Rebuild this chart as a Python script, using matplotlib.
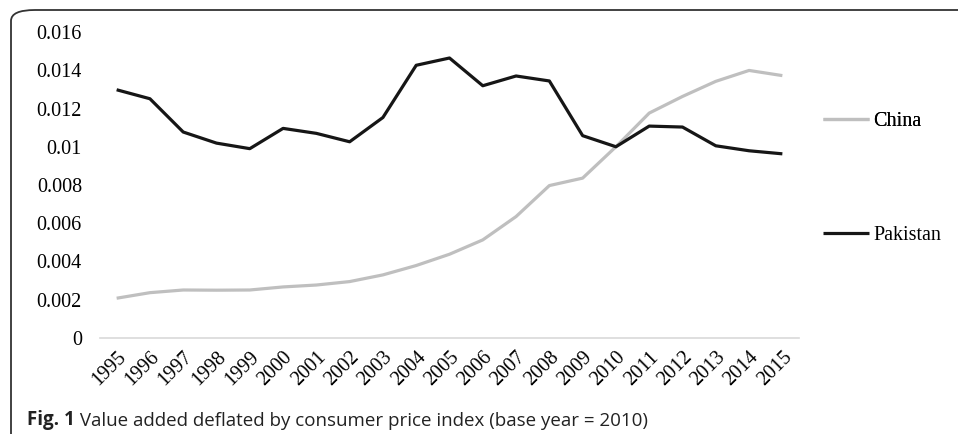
import matplotlib
matplotlib.use('Agg')
import matplotlib.pyplot as plt
from matplotlib.patches import FancyBboxPatch

# Data
years = [str(y) for y in range(1995, 2016)]
china = [0.00208, 0.00237, 0.00251, 0.00250, 0.00251, 0.00267, 0.00277, 0.00295,
         0.00330, 0.00379, 0.00438, 0.00513, 0.00635, 0.00797, 0.00836, 0.01000,
         0.01176, 0.01263, 0.01342, 0.01399, 0.01372]
pakistan = [0.01298, 0.01251, 0.01077, 0.01019, 0.00990, 0.01096, 0.01070, 0.01026,
            0.01153, 0.01426, 0.01464, 0.01319, 0.01370, 0.01344, 0.01058, 0.01000,
            0.01108, 0.01103, 0.01005, 0.00979, 0.00963]
yticks = [0, 0.002, 0.004, 0.006, 0.008, 0.01, 0.012, 0.014, 0.016]
ytick_labels = ['0', '0.002', '0.004', '0.006', '0.008', '0.01', '0.012', '0.014', '0.016']

plt.rcParams['font.family'] = ['Liberation Serif', 'DejaVu Serif']

fig = plt.figure(figsize=(9.58, 4.34), dpi=100)
ax = fig.add_axes([100 / 958, 1 - 338 / 434, 699 / 958, 306 / 434])

x = list(range(len(years)))
ax.plot(x, china, color='#BFBFBF', lw=2.3, label='China', solid_capstyle='butt')
ax.plot(x, pakistan, color='#161616', lw=2.3, label='Pakistan', solid_capstyle='butt')

ax.set_xlim(-0.5, len(years) - 0.5)
ax.set_ylim(0, 0.016)
ax.set_yticks(yticks)
ax.set_yticklabels(ytick_labels, fontsize=14.5)
ax.set_xticks(x)
ax.set_xticklabels(years, fontsize=14.5, rotation=45, ha='right', rotation_mode='anchor')
ax.tick_params(axis='y', length=0, pad=13)
ax.tick_params(axis='x', length=0, pad=7)

for s in ['top', 'right', 'left']:
    ax.spines[s].set_visible(False)
ax.spines['bottom'].set_color('#D9D9D9')
ax.spines['bottom'].set_linewidth(1.2)

# Legend on the right, entries spaced apart
leg_kw = dict(loc='center left', frameon=False, fontsize=14.5, handlelength=2.3,
              handletextpad=0.2, borderpad=0, borderaxespad=0)
leg = fig.legend(handles=ax.get_lines()[:1], bbox_to_anchor=(823 / 958, 1 - 121 / 434), **leg_kw)
leg2 = fig.legend(handles=ax.get_lines()[1:], bbox_to_anchor=(823 / 958, 1 - 235 / 434), **leg_kw)
fig.add_artist(leg)

# Rounded frame round the chart (cut off at right and bottom)
frame = FancyBboxPatch((11 / 958, -0.05), 1.1, 1 - 10 / 434 + 0.05,
                       boxstyle='round,pad=0,rounding_size=0.025',
                       transform=fig.transFigure, fill=False,
                       edgecolor='#333333', lw=1.3, clip_on=False)
fig.patches.append(frame)

# Caption
cap_font = ['Open Sans', 'DejaVu Sans']
t = fig.text(27 / 958, 1 - 425 / 434, 'Fig. 1', fontsize=13.5, fontweight='bold',
             family=cap_font, color='#222222', va='baseline')
ax.annotate(' Value added deflated by consumer price index (base year = 2010)',
            xy=(1, 0), xycoords=t, va='bottom', fontsize=13.5,
            family=cap_font, color='#222222', annotation_clip=False)

plt.savefig('out.png', dpi=100)
